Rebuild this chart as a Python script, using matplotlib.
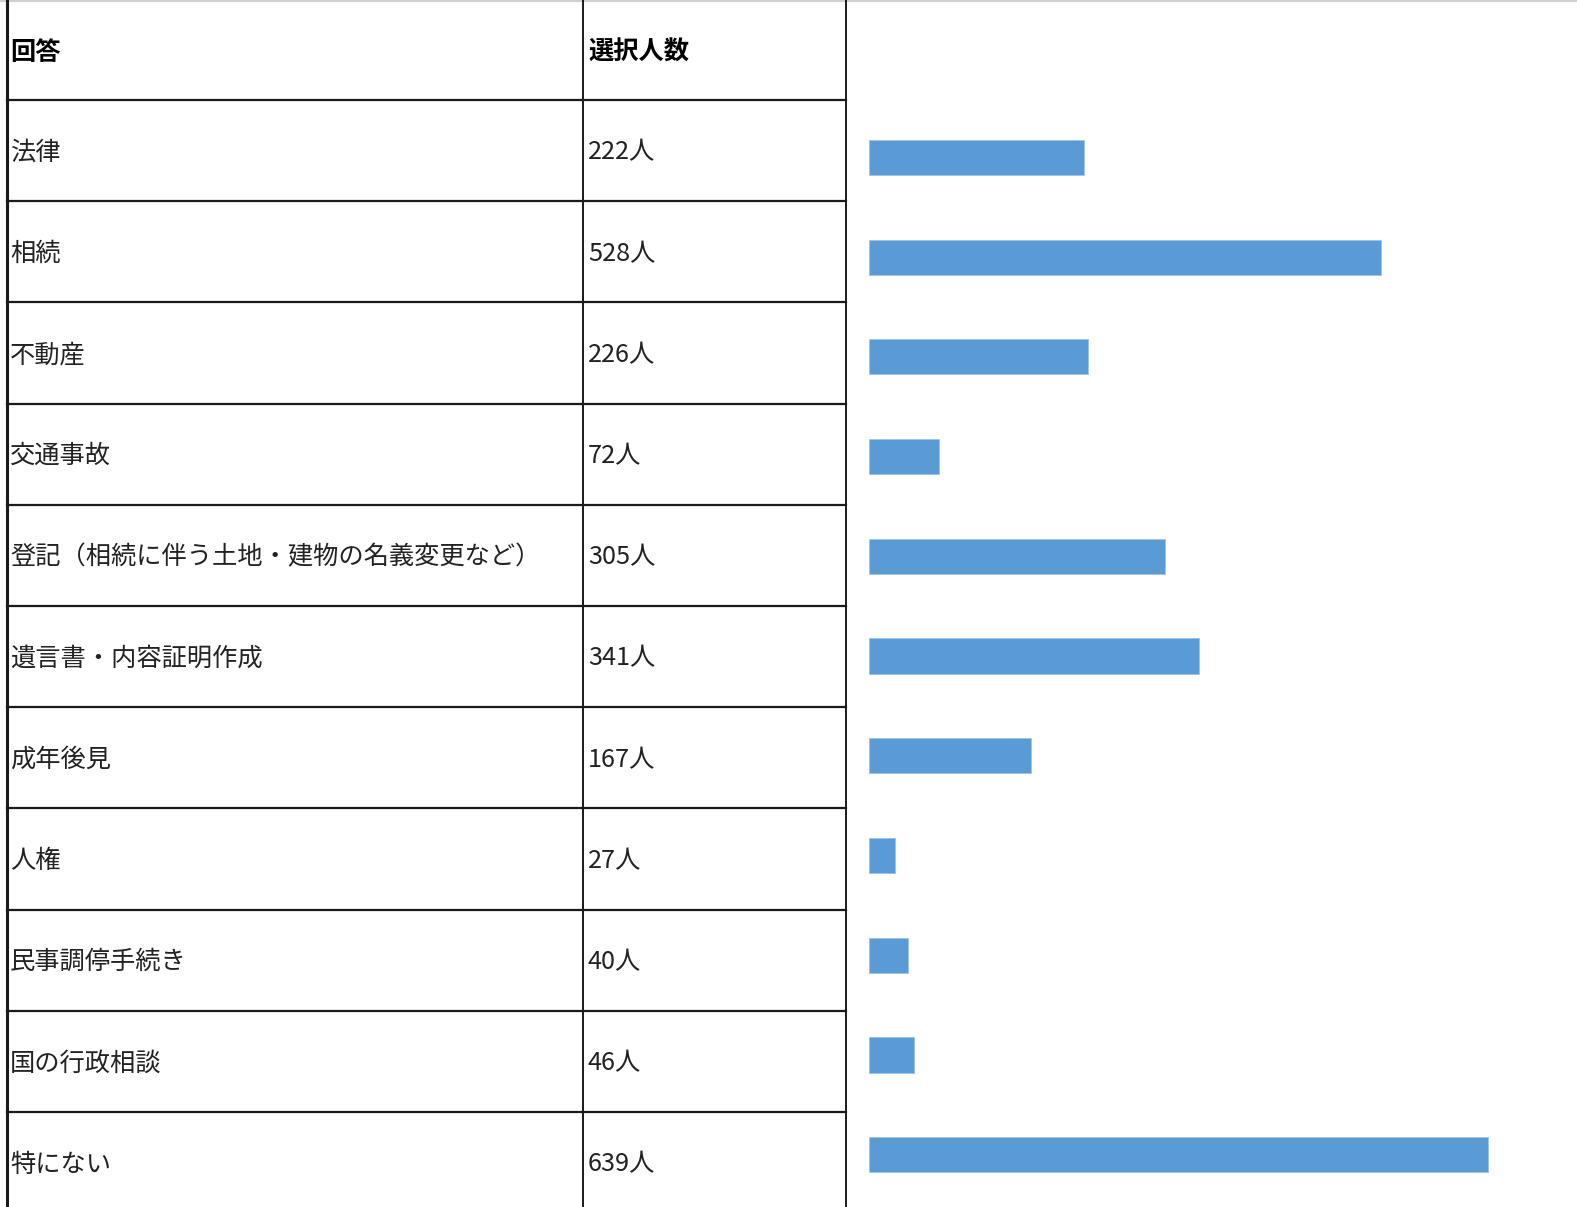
import numpy as np
import matplotlib.pyplot as plt

plt.rcParams['font.family'] = ['Noto Sans CJK JP', 'DejaVu Sans']

header = ['回答', '選択人数']
answers = ['法律', '相続', '不動産', '交通事故', '登記（相続に伴う土地・建物の名義変更など）',
           '遺言書・内容証明作成', '成年後見', '人権', '民事調停手続き', '国の行政相談', '特にない']
counts = [222, 528, 226, 72, 305, 341, 167, 27, 40, 46, 639]

W, H = 1577, 1207
fig = plt.figure(figsize=(W / 100, H / 100), dpi=100)

# table drawn in pixel coordinates
tab = fig.add_axes([0, 0, 1, 1])
tab.set_xlim(0, W)
tab.set_ylim(H, 0)
tab.axis('off')

header_h = 100
row_h = 101.2
col_x = [7, 583, 846]
lines_y = [header_h + i * row_h for i in range(len(answers))]
fs = 18.2

tab.axhline(0.5, color='#d0d0d0', lw=1.5)
for y in lines_y:
    tab.plot([col_x[0], col_x[2]], [y, y], color='#1a1a1a', lw=1.6)
tab.plot([col_x[0], col_x[0]], [0, H], color='#1a1a1a', lw=2.2)
tab.plot([col_x[1], col_x[1]], [0, H], color='#1a1a1a', lw=1.4)
tab.plot([col_x[2], col_x[2]], [0, H], color='#1a1a1a', lw=1.4)

tab.text(col_x[0] + 3, header_h / 2 + 2, header[0], fontsize=fs, fontweight='bold', va='center')
tab.text(col_x[1] + 5, header_h / 2 + 2, header[1], fontsize=fs, fontweight='bold', va='center')
for i, (a, c) in enumerate(zip(answers, counts)):
    yc = lines_y[i] + row_h / 2 + 2
    tab.text(col_x[0] + 3, yc, a, fontsize=fs, va='center', color='#222222')
    tab.text(col_x[1] + 5, yc, f'{c}人', fontsize=fs, va='center', color='#222222')

# bar part
n = len(answers)
first_c, pitch = 157.4, 99.73
top = first_c - pitch / 2
bottom = top + n * pitch
x0, px_per = 869, 0.969
xmax = 700
bax = fig.add_axes([x0 / W, 1 - bottom / H, xmax * px_per / W, (bottom - top) / H])
bax.barh(np.arange(n), counts, height=35.2 / pitch, color='#5b9bd5',
         edgecolor='#9dc3e6', linewidth=0.6)
bax.set_xlim(0, xmax)
bax.set_ylim(n - 0.5, -0.5)
bax.axis('off')

fig.savefig('out.png', dpi=100)
